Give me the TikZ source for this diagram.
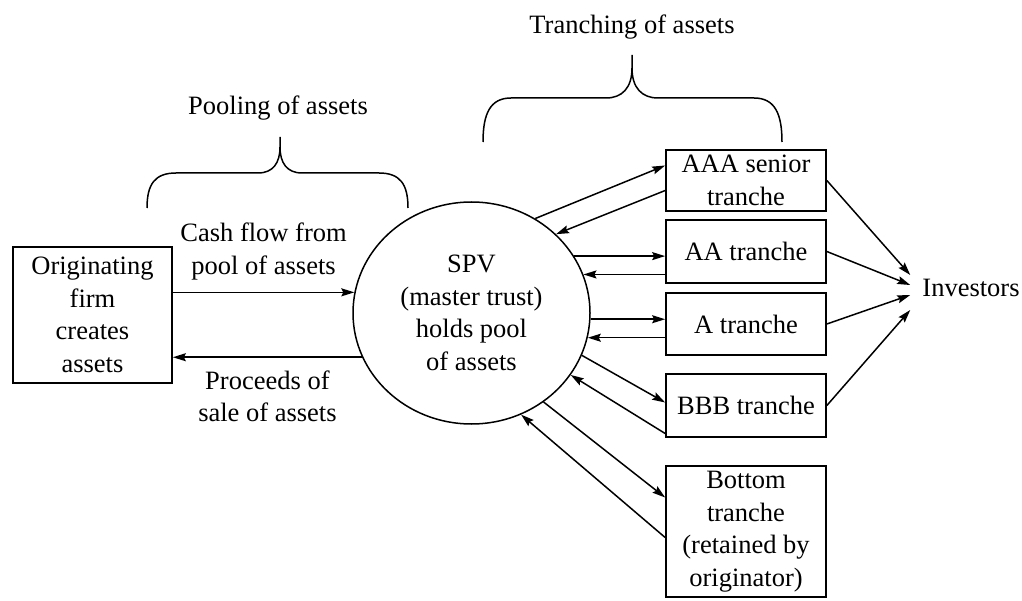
\documentclass[tikz,border=0pt]{standalone}
\usepackage{fontspec}
\setmainfont{Liberation Serif}
\usetikzlibrary{shapes.geometric,arrows.meta}

\begin{document}
\begin{tikzpicture}[x=1pt,y=-1pt,
	font=\fontsize{26.5}{32.5}\selectfont,
	box/.style={draw,line width=1.7pt,minimum width=160pt,inner sep=0pt,align=center},
	flow/.style={line width=1.5pt,-{Stealth[length=13pt,width=8pt,inset=2pt]}},
	lbl/.style={align=center,inner sep=2.5pt}]
	\useasboundingbox (0,0) rectangle (1022,601);
	\node[box,minimum width=159pt,minimum height=136pt] (orig) at (92.5,315) {Originating\\firm\\creates\\assets};
	\node[draw,ellipse,line width=1.5pt,minimum width=237pt,minimum height=222pt,inner sep=0pt,align=center] (spv) at (471.5,313) {SPV\\(master trust)\\holds pool\\of assets};
	\node[box,minimum height=61pt] (aaa) at (746,180.5) {AAA senior\\tranche};
	\node[box,minimum height=63pt] (aa) at (746,251.5) {AA tranche};
	\node[box,minimum height=62pt] (a) at (746,324) {A tranche};
	\node[box,minimum height=63pt] (bbb) at (746,405.5) {BBB tranche};
	\node[box,minimum height=131pt] (bottom) at (746,531.5) {Bottom\\tranche\\(retained by\\originator)};
	\node[inner sep=12pt] (inv) at (971,288) {Investors};
	\node (pooling) at (278,108) {Pooling of assets};
	\node (tranching) at (632,27) {Tranching of assets};
	% braces
	\draw[line width=1.5pt] (147,208) .. controls (147,184) and (155,173) .. (176,173) -- (258,173) .. controls (273,173) and (280,163) .. (280,147) -- (280,137);
	\draw[line width=1.5pt] (408,208) .. controls (408,184) and (400,173) .. (379,173) -- (302,173) .. controls (287,173) and (280,163) .. (280,147);
	\draw[line width=1.5pt] (483,142) .. controls (483,114) and (490,98) .. (511,98) -- (606,98) .. controls (622,98) and (632,88) .. (632,68) -- (632,55);
	\draw[line width=1.5pt] (782,142) .. controls (782,114) and (775,98) .. (754,98) -- (658,98) .. controls (642,98) and (632,88) .. (632,68);
	% originator and SPV
	\draw[flow] (orig.east |- spv.170) -- node[lbl,above=9pt] {Cash flow from\\pool of assets} (spv.170);
	\draw[flow] (spv.202) -- node[lbl,below=10pt] {Proceeds of\\sale of assets} (orig.east |- spv.202);
	% SPV and tranches
	\draw[flow] (spv.56) -- ([yshift=15pt]aaa.west);
	\draw[flow] ([yshift=-10pt]aaa.west) -- (spv.43);
	\draw[flow] (spv.29) -- (spv.29 -| aa.west);
	\draw[flow] (aa.west |- spv.19) -- (spv.19);
	\draw[flow] (spv.357) -- (spv.357 -| a.west);
	\draw[flow] (a.west |- spv.348) -- (spv.348);
	\draw[flow] (spv.339) -- ([yshift=3pt]bbb.west);
	\draw[flow] ([yshift=-28pt]bbb.west) -- (spv.328);
	\draw[flow] (spv.309) -- ([yshift=34pt]bottom.west);
	\draw[flow] ([yshift=-6pt]bottom.west) -- (spv.296);
	% tranches and investors
	\foreach \t/\s in {aaa/13,aa/3,a/-7,bbb/-22}{
		\draw[flow] (\t.east) -- ([yshift=\s pt]inv.west);
	}
\end{tikzpicture}
\end{document}
